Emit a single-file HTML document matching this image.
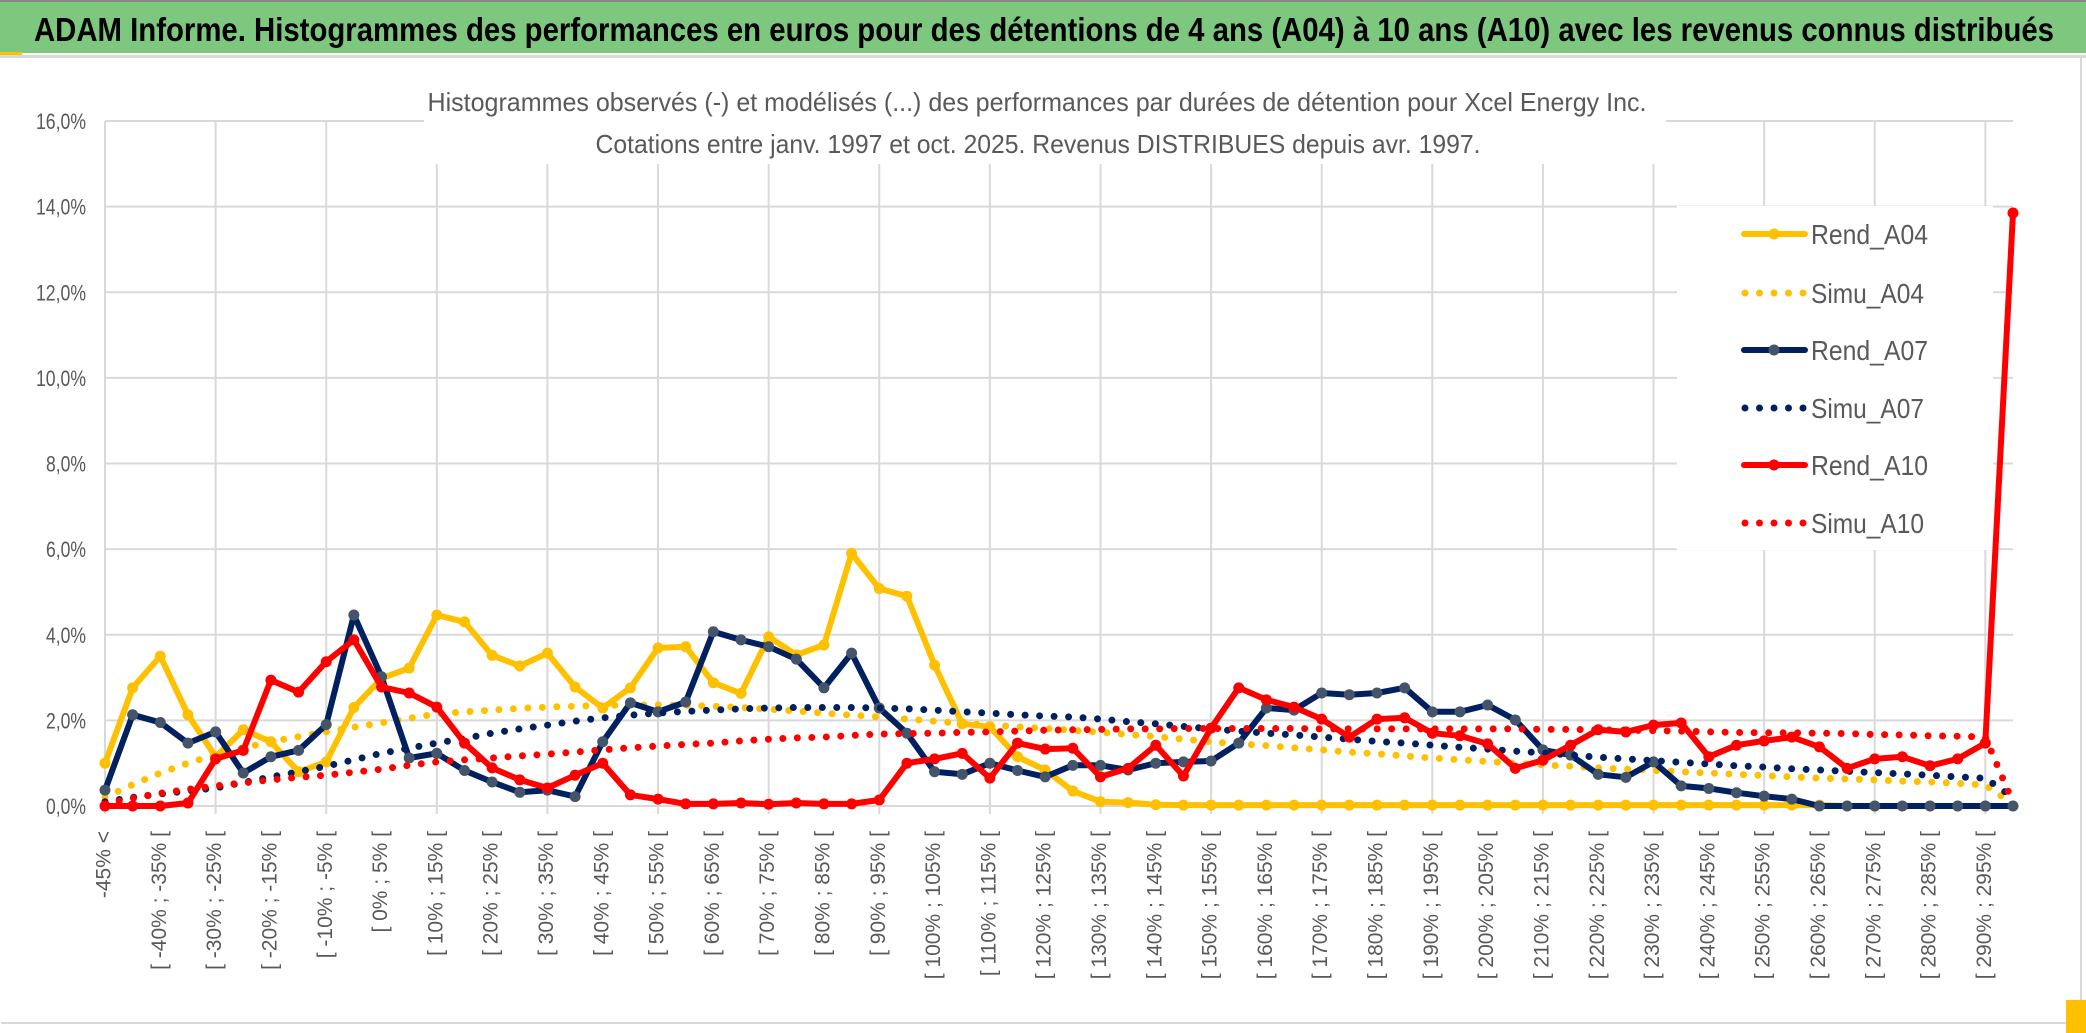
<!DOCTYPE html>
<html><head><meta charset="utf-8">
<style>
html,body{margin:0;padding:0;background:#fff;}
svg{display:block;}
</style></head>
<body>
<svg id="chart" width="2086" height="1033" viewBox="0 0 2086 1033" xmlns="http://www.w3.org/2000/svg">
  <rect x="0" y="0" width="2086" height="1033" fill="#fff"/>
  <rect x="0" y="0" width="2086" height="2" fill="#888"/>
  <rect x="0" y="2" width="2086" height="51" fill="#7DC87E"/>
  <rect x="0" y="52" width="22" height="3" fill="#FFC000"/>
  <rect x="0" y="55" width="2086" height="3" fill="#d9d9d9"/>
  <text x="34" y="41" font-family="'Liberation Sans Narrow','Liberation Sans',sans-serif" font-weight="bold" font-size="33" fill="#000" textLength="2020" lengthAdjust="spacingAndGlyphs">ADAM Informe. Histogrammes des performances en euros pour des détentions de 4 ans (A04) à 10 ans (A10) avec les revenus connus distribués</text>
  <rect x="1" y="1022" width="2078" height="2" fill="#d9d9d9"/>
  <rect x="2080" y="58" width="2" height="966" fill="#d9d9d9"/>
  <rect x="2066" y="1000" width="20" height="33" fill="#FFC000"/>
  <g id="grid"></g>
  <rect x="424" y="60" width="1242" height="104" fill="#fff"/>
  <text x="1037" y="111" text-anchor="middle" font-family="'Liberation Sans Narrow','Liberation Sans',sans-serif" font-size="26" fill="#595959" textLength="1219" lengthAdjust="spacingAndGlyphs">Histogrammes observés (-) et modélisés (...) des performances par durées de détention pour Xcel Energy Inc.</text>
  <text x="1038" y="153" text-anchor="middle" font-family="'Liberation Sans Narrow','Liberation Sans',sans-serif" font-size="26" fill="#595959" textLength="885" lengthAdjust="spacingAndGlyphs">Cotations entre janv. 1997 et oct. 2025. Revenus DISTRIBUES depuis avr. 1997.</text>
  <g id="yaxis"></g>
  <g id="xaxis"></g>
  <rect x="1677" y="206" width="316" height="344" fill="#fff"/>
  <g id="legend"></g>
  <g id="series"></g>
</svg>
<script>
const yTicks = [0, 2, 4, 6, 8, 10, 12, 14, 16];
const seriesNames = ["Rend_A04", "Simu_A04", "Rend_A07", "Simu_A07", "Rend_A10", "Simu_A10"];
const rendA04 = [1.0,2.76,3.5,2.13,1.15,1.78,1.5,0.8,1.03,2.3,2.98,3.22,4.46,4.3,3.52,3.27,3.57,2.78,2.29,2.76,3.69,3.72,2.88,2.63,3.95,3.53,3.76,5.9,5.08,4.9,3.29,1.92,1.85,1.15,0.84,0.35,0.1,0.08,0.03,0.02,0.02,0.02,0.02,0.02,0.02,0.02,0.02,0.02,0.02,0.02,0.02,0.02,0.02,0.02,0.02,0.02,0.02,0.02,0.02,0.02,0.02,0.02,0.02,0,0,0,0,0,0,0];
const simuA04 = [0.2,0.5,0.77,1.0,1.2,1.36,1.5,1.62,1.73,1.84,1.94,2.05,2.15,2.2,2.24,2.28,2.31,2.33,2.35,2.36,2.36,2.35,2.33,2.3,2.26,2.22,2.17,2.12,2.08,2.03,1.98,1.93,1.89,1.85,1.81,1.77,1.72,1.67,1.62,1.56,1.5,1.45,1.41,1.36,1.31,1.26,1.22,1.17,1.12,1.08,1.04,1.0,0.96,0.93,0.89,0.86,0.83,0.8,0.77,0.74,0.71,0.68,0.65,0.63,0.61,0.58,0.56,0.53,0.49,0.05];
const rendA07 = [0.37,2.13,1.95,1.47,1.73,0.77,1.15,1.3,1.9,4.46,3.02,1.12,1.23,0.83,0.56,0.32,0.37,0.22,1.5,2.41,2.2,2.43,4.07,3.88,3.72,3.43,2.76,3.57,2.29,1.7,0.8,0.74,1.0,0.83,0.68,0.95,0.95,0.84,1.0,1.03,1.05,1.47,2.29,2.24,2.64,2.6,2.64,2.76,2.2,2.2,2.36,2.01,1.31,1.19,0.74,0.67,1.03,0.47,0.41,0.31,0.23,0.16,0,0,0,0,0,0,0,0];
const simuA07 = [0.1,0.2,0.28,0.35,0.42,0.55,0.68,0.8,0.93,1.08,1.23,1.35,1.47,1.58,1.7,1.8,1.89,1.98,2.06,2.12,2.17,2.21,2.24,2.27,2.29,2.3,2.3,2.3,2.29,2.27,2.24,2.2,2.17,2.13,2.1,2.08,2.03,1.97,1.92,1.86,1.8,1.75,1.7,1.66,1.61,1.56,1.51,1.47,1.42,1.37,1.33,1.28,1.24,1.19,1.14,1.1,1.06,1.02,0.98,0.94,0.91,0.87,0.84,0.81,0.78,0.75,0.72,0.68,0.65,0.2];
const rendA10 = [0,0,0,0.07,1.1,1.3,2.94,2.66,3.37,3.88,2.78,2.64,2.31,1.47,0.89,0.61,0.42,0.72,1.0,0.26,0.16,0.05,0.05,0.07,0.04,0.07,0.05,0.05,0.14,1.0,1.1,1.23,0.65,1.47,1.33,1.35,0.68,0.88,1.42,0.7,1.82,2.76,2.48,2.31,2.03,1.61,2.03,2.06,1.7,1.64,1.45,0.88,1.07,1.42,1.78,1.73,1.89,1.94,1.15,1.42,1.52,1.61,1.38,0.88,1.1,1.15,0.94,1.1,1.47,13.85];
const simuA10 = [0.05,0.18,0.3,0.39,0.47,0.54,0.61,0.67,0.72,0.79,0.86,0.95,1.03,1.08,1.12,1.17,1.21,1.26,1.31,1.36,1.4,1.44,1.47,1.52,1.56,1.59,1.61,1.65,1.68,1.69,1.7,1.72,1.73,1.75,1.77,1.78,1.79,1.8,1.8,1.81,1.81,1.81,1.81,1.81,1.8,1.8,1.8,1.8,1.8,1.8,1.8,1.8,1.79,1.79,1.78,1.77,1.76,1.75,1.73,1.72,1.71,1.71,1.7,1.69,1.67,1.66,1.64,1.63,1.61,0.08];
const categories = ["-45% <"];
for (let b = -45; b < 300; b += 5) categories.push("[ " + b + "% ; " + (b + 5) + "% [");

const NS = "http://www.w3.org/2000/svg";
const X0 = 105, X1 = 2013, Y0 = 806, Y16 = 121;
const n = categories.length;
function xPos(i) { return X0 + i * (X1 - X0) / (n - 1); }
function yPos(v) { return Y0 - v * (Y0 - Y16) / 16; }
function mk(tag, attrs, parent) {
  const el = document.createElementNS(NS, tag);
  for (const k in attrs) el.setAttribute(k, attrs[k]);
  parent.appendChild(el);
  return el;
}
const grid = document.getElementById("grid");
yTicks.forEach(t => {
  const l = mk("line", {x1: X0, x2: X1, y1: yPos(t), y2: yPos(t), stroke: "#d9d9d9", "stroke-width": 2}, grid);
  
  
});
for (let i = 0; i < n; i += 4) {
  const l = mk("line", {x1: xPos(i), x2: xPos(i), y1: Y16, y2: Y0 + 8, stroke: "#d9d9d9", "stroke-width": 2}, grid);
  
  
}
const yaxis = document.getElementById("yaxis");
yTicks.forEach(t => {
  const tx = mk("text", {x: 86, y: yPos(t) + 8, "text-anchor": "end", "font-family": "'Liberation Sans Narrow','Liberation Sans',sans-serif", "font-size": 22, fill: "#595959", textLength: t >= 10 ? 50 : 40, lengthAdjust: "spacingAndGlyphs"}, yaxis);
  tx.textContent = t.toFixed(1).replace(".", ",") + "%";
  
  
});
const xaxis = document.getElementById("xaxis");
for (let i = 0; i < n; i += 2) {
  const x = xPos(i), y = 831;
  const tx = mk("text", {x: x, y: y, transform: "rotate(-90 " + x + " " + y + ")", "text-anchor": "end", "dominant-baseline": "middle", "font-family": "'Liberation Sans',sans-serif", "font-size": 21, fill: "#595959"}, xaxis);
  tx.textContent = categories[i];
  
  
}
const colors = {A04: "#FFC000", A07: "#002060", A10: "#FF0000"};
const markerColors = {A04: "#FFC000", A07: "#44546A", A10: "#FF0000"};
const seriesData = [
  {key: "A04", rend: true, vals: rendA04},
  {key: "A04", rend: false, vals: simuA04},
  {key: "A07", rend: true, vals: rendA07},
  {key: "A07", rend: false, vals: simuA07},
  {key: "A10", rend: true, vals: rendA10},
  {key: "A10", rend: false, vals: simuA10}
];
const sg = document.getElementById("series");
seriesData.forEach((s, si) => {
  const g = mk("g", {}, sg);
  
  
  const pts = s.vals.map((v, i) => xPos(i).toFixed(1) + "," + yPos(v).toFixed(1)).join(" ");
  if (s.rend) {
    const pl = mk("polyline", {points: pts, fill: "none", stroke: colors[s.key], "stroke-width": 6, "stroke-linejoin": "round"}, g);
    
    
    s.vals.forEach((v, i) => {
      const c = mk("circle", {cx: xPos(i), cy: yPos(v), r: 5.5, fill: markerColors[s.key]}, g);
      
      
    });
  } else {
    const pl = mk("polyline", {points: pts, fill: "none", stroke: colors[s.key], "stroke-width": 7, "stroke-linecap": "round", "stroke-dasharray": "0 14.5"}, g);
    
    
  }
});
const lg = document.getElementById("legend");
const rowsY = [234, 293, 350, 408, 465, 523];
seriesData.forEach((s, si) => {
  const y = rowsY[si];
  const g = mk("g", {}, lg);
  
  
  if (s.rend) {
    mk("line", {x1: 1744, x2: 1805, y1: y, y2: y, stroke: colors[s.key], "stroke-width": 6, "stroke-linecap": "round"}, g);
    mk("circle", {cx: 1774, cy: y, r: 5.5, fill: markerColors[s.key]}, g);
  } else {
    mk("line", {x1: 1745, x2: 1805, y1: y, y2: y, stroke: colors[s.key], "stroke-width": 7, "stroke-linecap": "round", "stroke-dasharray": "0 14.5"}, g);
  }
  const tx = mk("text", {x: 1811, y: y + 10, "font-family": "'Liberation Sans Narrow','Liberation Sans',sans-serif", "font-size": 28, fill: "#595959", textLength: s.rend ? 117 : 113, lengthAdjust: "spacingAndGlyphs"}, g);
  tx.textContent = seriesNames[si];
  
  
});
</script>
</body></html>
